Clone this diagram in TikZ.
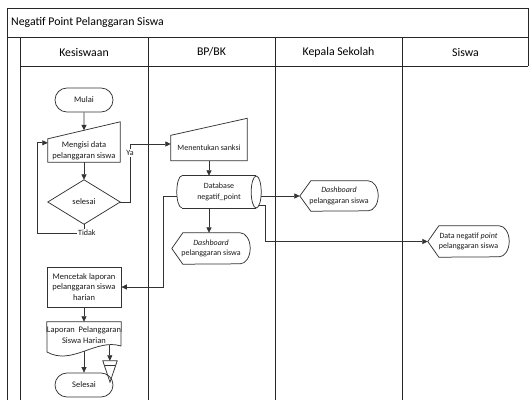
\documentclass[tikz,border=0pt]{standalone}
\usepackage{fontspec}
\setmainfont{Carlito}
\usetikzlibrary{calc,arrows.meta}
\begin{document}
\begin{tikzpicture}[x=1pt,y=-1pt,
  frame/.style={draw=black!85,line width=0.9pt},
  ln/.style={draw=black!80,line width=0.75pt},
  arr/.style={ln,-{Triangle[length=5.5pt,width=5pt]}},
  txt/.style={font=\fontsize{8}{10.5}\selectfont,align=center,inner sep=0pt,text=black!90},
  ktxt/.style={font=\fontsize{8.5}{10.8}\selectfont},
  lbl/.style={txt,fill=white,inner sep=1pt},
  hdr/.style={font=\fontsize{11.8}{13}\selectfont,inner sep=0pt},
  term/.style={txt,ktxt,draw=black!80,line width=0.75pt,rounded corners=12pt,minimum width=58pt,minimum height=24pt},
  area/.style={txt,minimum width=#1},
]
\useasboundingbox (0,0) rectangle (529,400);

% pool and lanes
\draw[frame] (7,400) -- (7,8) -- (528,8) -- (528,66);
\draw[frame] (7,37) -- (528,37);
\draw[frame] (20,66) -- (528,66);
\foreach \x in {20,148,275,402} \draw[frame] (\x,37) -- (\x,400);

\node[hdr,anchor=west] (title) at (11,22) {Negatif Point Pelanggaran Siswa};
\node[hdr] (h1) at (84,52) {Kesiswaan};
\node[hdr] (h2) at (211.5,52) {BP/BK};
\node[hdr] (h3) at (338.5,52) {Kepala Sekolah};
\node[hdr] (h4) at (465.5,52) {Siswa};

% Kesiswaan lane
\node[term] (mulai) at (84,100) {Mulai};

\node[area=72pt,ktxt,minimum height=23pt] (isi) at (84,150.5) {Mengisi data\\pelanggaran siswa};
\draw[ln] (isi.south west) -- (isi.south east) -- ($(isi.north east)+(0,-17)$) -- (isi.north west) -- cycle;

\node[area=72pt,ktxt,minimum height=44pt] (sel) at (84,202) {selesai};
\draw[ln] (sel.north) -- (sel.east) -- (sel.south) -- (sel.west) -- cycle;

\draw[arr] (mulai.south) -- ($(isi.north west)!0.5!(isi.north east)+(0,-8.5)$);
\draw[arr] (isi.south) -- (sel.north);

\coordinate (tdk) at (37,233);
\draw[arr] (sel.south) |- (tdk) |- ($(isi.north west)+(0,4)$);
\node[lbl,anchor=west] (tidak) at ($(sel.south |- tdk)+(-7,0)$) {Tidak};

% BP/BK lane
\node[area=76pt,minimum height=25pt] (sanksi) at (209,148) {Menentukan sanksi};
\draw[ln] (sanksi.south west) -- (sanksi.south east) -- ($(sanksi.north east)+(0,-17)$) -- (sanksi.north west) -- cycle;

\coordinate (yx) at (130,0);
\coordinate (sIn) at ($(sanksi.west)+(0,-4)$);
\draw[arr] (sel.east) -| (yx |- sIn) -- (sIn);
\node[lbl] (ya) at (130,153) {Ya};

\node[area=74pt,minimum height=32pt] (db) at (219,192) {Database\\negatif\_point};
\draw[ln] (db.north west) -- (db.north east);
\draw[ln] (db.south west) -- (db.south east);
\draw[ln] (db.east) ellipse[x radius=5pt,y radius=16pt];
\draw[ln] (db.north west) arc[start angle=90,end angle=270,x radius=5pt,y radius=16pt];

\draw[arr] (sanksi.south) -- (sanksi.south |- db.north);

\node[area=78pt,minimum height=31pt] (dbp) at (211,248.5) {\textit{Dashboard}\\pelanggaran siswa};
\draw[ln] (dbp.west) -- ($(dbp.north west)+(11,0)$) -- ($(dbp.north east)+(-10,0)$)
  arc[start angle=90,end angle=-90,x radius=10pt,y radius=15.5pt]
  -- ($(dbp.south west)+(11,0)$) -- cycle;
\draw[arr] (sanksi.south |- db.south) -- (sanksi.south |- dbp.north);

% Kepala Sekolah lane
\node[area=78pt,minimum height=30pt] (dk) at (339,196) {\textit{Dashboard}\\pelanggaran siswa};
\draw[ln] (dk.west) -- ($(dk.north west)+(11,0)$) -- ($(dk.north east)+(-10,0)$)
  arc[start angle=90,end angle=-90,x radius=10pt,y radius=15pt]
  -- ($(dk.south west)+(11,0)$) -- cycle;
\coordinate (dbR) at ($(db.east)+(5,0)$);
\draw[arr] (dbR |- dk.west) -- (dk.west);

% Siswa lane
\node[area=81pt,minimum height=31pt] (dn) at (468.5,241.5) {Data negatif \textit{point}\\pelanggaran siswa};
\draw[ln] (dn.west) -- ($(dn.north west)+(11,0)$) -- ($(dn.north east)+(-10,0)$)
  arc[start angle=90,end angle=-90,x radius=10pt,y radius=15.5pt]
  -- ($(dn.south west)+(11,0)$) -- cycle;
\coordinate (xR) at (265,0);
\coordinate (dbLR) at ($(db.east)+(3,13)$);
\draw[arr] (dbLR) -- (xR |- dbLR) |- (dn.west);

% report printing
\node[area=74pt,ktxt,minimum height=40pt,draw=black!80,line width=0.75pt] (cetak) at (84,287) {Mencetak laporan\\pelanggaran siswa\\harian};
\coordinate (xL) at (163,0);
\coordinate (dbL) at ($(db.west)+(-5,4)$);
\draw[arr] (dbL) -- (xL |- dbL) |- (cetak.east);

\node[area=74pt,ktxt,minimum height=26pt] (lap) at (84,335) {Laporan\ \ Pelanggaran\\Siswa Harian};
\draw[ln] (47,348) -- (lap.north west) -- (lap.north east) -- (121,346)
  .. controls (96,338) and (72,366) .. coordinate[pos=0.5] (lapB) coordinate[pos=0.15] (lapT) (47,352) -- cycle;
\draw[arr] (cetak.south) -- (cetak.south |- lap.north);

\node[term] (selesai) at (84,385) {Selesai};
\draw[arr] (lapB) -- (lapB |- selesai.north);

\node[minimum width=14pt,minimum height=21pt,inner sep=0pt] (tri) at (110,371.5) {};
\draw[ln] (tri.north west) -- (tri.north east) -- (tri.south) -- cycle;
\draw[ln] ($(tri.north west)+(2.3,5)$) -- ($(tri.north east)+(-2.3,5)$);
\draw[arr] (lapT) -- (lapT |- tri.north);
\end{tikzpicture}
\end{document}
